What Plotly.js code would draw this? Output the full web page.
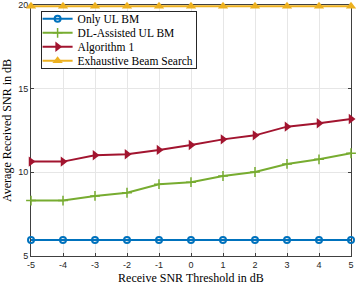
<!DOCTYPE html>
<html><head><meta charset="utf-8">
<script src="https://cdn.plot.ly/plotly-3.0.1.min.js"></script>
<style>html,body{margin:0;padding:0;background:#fff}#c{width:357px;height:287px}</style>
</head><body><div id="c"></div>
<script>
const snr = [-5,-4,-3,-2,-1,0,1,2,3,4,5];
const onlyUL = [5.95,5.95,5.95,5.95,5.95,5.95,5.95,5.95,5.95,5.95,5.95];
const dlAssisted = [8.31,8.31,8.59,8.78,9.29,9.41,9.78,10.02,10.5,10.78,11.14];
const algorithm1 = [10.64,10.64,11.02,11.08,11.34,11.63,11.97,12.21,12.73,12.93,13.19];
const exhaustive = [19.93,19.93,19.93,19.93,19.93,19.93,19.93,19.93,19.93,19.93,19.93];
const names = ['Only UL BM','DL-Assisted UL BM','Algorithm 1','Exhaustive Beam Search'];
const SERIF = "'Liberation Serif', 'Times New Roman', serif";
const SANS = "'Liberation Sans', Arial, sans-serif";

const traces = [
  {x:snr,y:onlyUL,name:names[0],mode:'lines+markers',cliponaxis:false,line:{color:'#0072BD',width:2},marker:{symbol:'circle-open',size:6,color:'#0072BD',line:{width:2,color:'#0072BD'}}},
  {x:snr,y:dlAssisted,name:names[1],mode:'lines+markers',cliponaxis:false,line:{color:'#77AC30',width:2},marker:{symbol:'cross-thin-open',size:7,color:'#77AC30',line:{width:1.5,color:'#77AC30'}}},
  {x:snr,y:algorithm1,name:names[2],mode:'lines+markers',cliponaxis:false,line:{color:'#A2142F',width:2},marker:{symbol:'triangle-right',size:9,color:'#A2142F'}},
  {x:snr,y:exhaustive,name:names[3],mode:'lines+markers',cliponaxis:false,line:{color:'#EDB120',width:2},marker:{symbol:'triangle-up',size:9,color:'#EDB120'}}
];
const axisCommon = {showline:true,linecolor:'#404040',linewidth:1,mirror:'ticks',ticks:'inside',ticklen:3,tickcolor:'#404040',
  layer:'below traces',
  showgrid:true,gridcolor:'#e6e6e6',gridwidth:1,zeroline:false,tickfont:{family:SANS,size:9,color:'#262626'}};
const layout = {
  width:357,height:287,margin:{l:31,r:6,t:5,b:31},paper_bgcolor:'#fff',plot_bgcolor:'#fff',
  showlegend:true,
  legend:{x:0.03,y:0.975,xanchor:'left',yanchor:'top',bgcolor:'#fff',bordercolor:'#262626',borderwidth:1,
    font:{family:SERIF,size:11.5,color:'#000'},tracegroupgap:0,itemwidth:30},
  xaxis:Object.assign({},axisCommon,{range:[-5,5],tickvals:snr,ticktext:snr.map(String),
    title:{text:'Receive SNR Threshold in dB',font:{family:SERIF,size:12,color:'#000'},standoff:4}}),
  yaxis:Object.assign({},axisCommon,{range:[5,20],tickvals:[5,10,15,20],
    title:{text:'Average Received SNR in dB',font:{family:SERIF,size:12,color:'#000'},standoff:6}})
};
Plotly.newPlot('c',traces,layout,{displayModeBar:false,staticPlot:true}).then(()=>{
  // compact the legend rows to match the reference spacing
  const items=document.querySelectorAll('.legend .traces');
  items.forEach((g,i)=>{ g.setAttribute('transform','translate(-3,'+(7.5+i*14)+')'); });
  const bg=document.querySelector('.legend .bg');
  if(bg){ bg.setAttribute('height',57); bg.setAttribute('width',155); }
  const clip=document.querySelector('clipPath[id*=legend] rect');
  if(clip){ clip.setAttribute('height',57); clip.setAttribute('width',155); }
});
</script></body></html>
